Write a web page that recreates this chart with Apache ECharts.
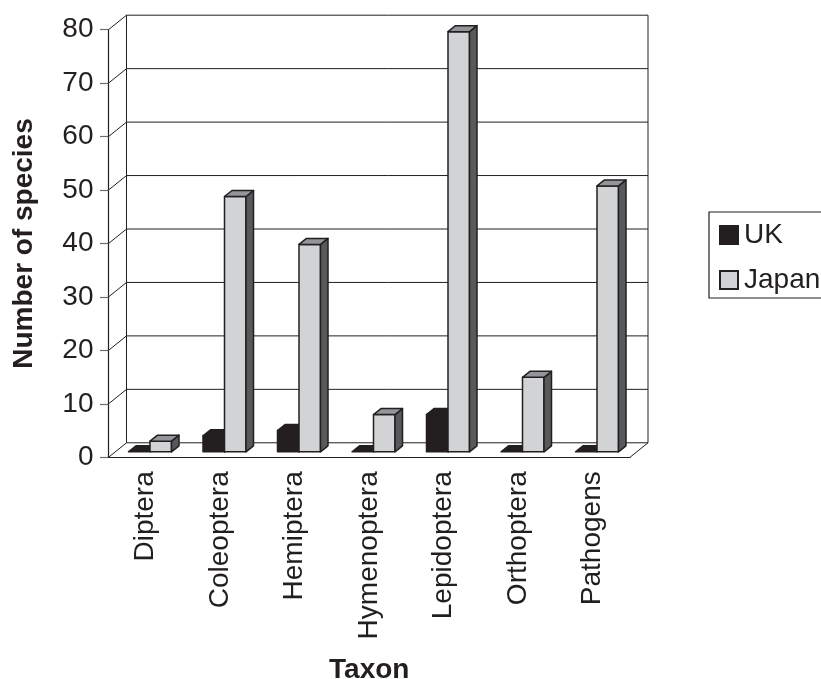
<!DOCTYPE html>
<html><head><meta charset="utf-8">
<style>html,body{margin:0;padding:0;background:#fff;overflow:hidden}#c{width:821px;height:679px}</style>
<script src="https://cdn.jsdelivr.net/npm/echarts@6/dist/echarts.min.js"></script>
</head><body><div id="c"></div>
<script>
const categories = ['Diptera','Coleoptera','Hemiptera','Hymenoptera','Lepidoptera','Orthoptera','Pathogens'];
const ukValues = [0,3,4,0,7,0,0];
const japanValues = [2,48,39,7,79,14,50];
const yTicks = [0,10,20,30,40,50,60,70,80];

const WALL_DX = 18, WALL_DY = -14.5;   // back wall offset
const BAR_DY = -5.5;                   // bar front plane offset
const BAR_SCALE = 0.995;               // bars sit slightly deeper than the front plane
const DEPTH_DX = 7.5, DEPTH_DY = -6;   // bar depth
const BAR_W = 21.5, BAR_START = 20;
const FONT = '"Liberation Sans", Arial, sans-serif';
const LINE = '#231f20';
const TICK = '#6d6e71';

function poly(pts, fill){
  return {type:'polygon', shape:{points:pts}, style:{fill:fill, stroke:LINE, lineWidth:1.5, lineJoin:'round'}};
}
function ln(a,b){
  return {type:'line', shape:{x1:a[0],y1:a[1],x2:b[0],y2:b[1]}, style:{stroke:LINE, lineWidth:1, fill:null}};
}
function barItem(seriesIdx, colors){
  return function(params, api){
    const i = api.value(0), v = api.value(1);
    const catW = api.size([1,0])[0];
    const l = api.coord([i,0])[0] - catW/2 + BAR_START + seriesIdx*BAR_W;
    const r = l + BAR_W;
    const y0 = api.coord([i,0])[1];
    const baseY = y0 + BAR_DY;
    const topY = baseY - (y0 - api.coord([i,v])[1]) * BAR_SCALE;
    const ch = [];
    if (v > 0) {
      ch.push(poly([[l,topY],[r,topY],[r,baseY],[l,baseY]], colors.front));
      ch.push(poly([[r,topY],[r+DEPTH_DX,topY+DEPTH_DY],[r+DEPTH_DX,baseY+DEPTH_DY],[r,baseY]], colors.side));
    }
    ch.push(poly([[l,topY],[l+DEPTH_DX,topY+DEPTH_DY],[r+DEPTH_DX,topY+DEPTH_DY],[r,topY]], colors.top));
    return {type:'group', children:ch};
  };
}
const ukColors = {front:'#231f20', side:'#231f20', top:'#231f20'};
const jpColors = {front:'#d1d3d4', side:'#58595b', top:'#939598'};

const chart = echarts.init(document.getElementById('c'), null, {renderer:'canvas'});
chart.setOption({
  animation:false,
  backgroundColor:'#fff',
  grid:{left:108.5, right:191, top:29.7, bottom:221.7, outerBoundsMode:'none'},
  legend:{
    left:709, top:212, orient:'vertical',
    data:['UK','Japan'],
    itemWidth:18, itemHeight:18, itemGap:17,
    padding:[9,40,4,10],
    borderColor:LINE, borderWidth:1.2,
    textStyle:{fontFamily:FONT, fontSize:28, color:LINE, padding:[0,0,0,1]},
    icon:'rect', selectedMode:false
  },
  xAxis:{
    type:'category', data:categories,
    name:'Taxon', nameLocation:'middle', nameGap:199,
    nameTextStyle:{fontFamily:FONT, fontSize:28, fontWeight:'bold', color:LINE},
    axisLine:{lineStyle:{color:LINE,width:1.2}},
    axisTick:{alignWithLabel:false, length:9.5, lineStyle:{color:TICK,width:1.2}},
    axisLabel:{rotate:90, fontFamily:FONT, fontSize:28, color:LINE, margin:14, interval:0}
  },
  yAxis:{
    type:'value', min:0, max:80, interval:10,
    name:'Number of species', nameLocation:'middle', nameGap:70,
    nameTextStyle:{fontFamily:FONT, fontSize:28, fontWeight:'bold', color:LINE},
    axisLine:{show:true, lineStyle:{color:LINE,width:1.2}},
    axisTick:{show:true, length:8.5, lineStyle:{color:TICK,width:1.2}},
    axisLabel:{fontFamily:FONT, fontSize:28, color:LINE, margin:15},
    splitLine:{show:false}
  },
  series:[
    {
      type:'custom', name:'walls', coordinateSystem:'cartesian2d', silent:true, z:1,
      encode:{x:0,y:1},
      data:yTicks.map(function(t){return [0,t];}),
      renderItem:function(params, api){
        const t = api.value(1);
        const catW = api.size([1,0])[0];
        const a = api.coord([0,t]);
        const x0 = a[0]-catW/2, x1 = x0 + categories.length*catW, y = a[1];
        const ch = [
          ln([x0,y],[x0+WALL_DX,y+WALL_DY]),
          ln([x0+WALL_DX,y+WALL_DY],[x1+WALL_DX,y+WALL_DY])
        ];
        if (t === 0) {
          const topY = api.coord([0,80])[1];
          ch.push(ln([x1,y],[x1+WALL_DX,y+WALL_DY]));
          ch.push(ln([x0+WALL_DX,y+WALL_DY],[x0+WALL_DX,topY+WALL_DY]));
          ch.push(ln([x1+WALL_DX,y+WALL_DY],[x1+WALL_DX,topY+WALL_DY]));
        }
        return {type:'group', children:ch};
      }
    },
    {
      type:'custom', name:'UK', coordinateSystem:'cartesian2d', z:2,
      itemStyle:{color:'#231f20', borderColor:LINE, borderWidth:1.5},
      encode:{x:0,y:1},
      data:ukValues.map(function(v,i){return [i,v];}),
      renderItem:barItem(0, ukColors)
    },
    {
      type:'custom', name:'Japan', coordinateSystem:'cartesian2d', z:3,
      itemStyle:{color:'#d1d3d4', borderColor:LINE, borderWidth:1.5},
      encode:{x:0,y:1},
      data:japanValues.map(function(v,i){return [i,v];}),
      renderItem:barItem(1, jpColors)
    }
  ]
});
</script></body></html>
